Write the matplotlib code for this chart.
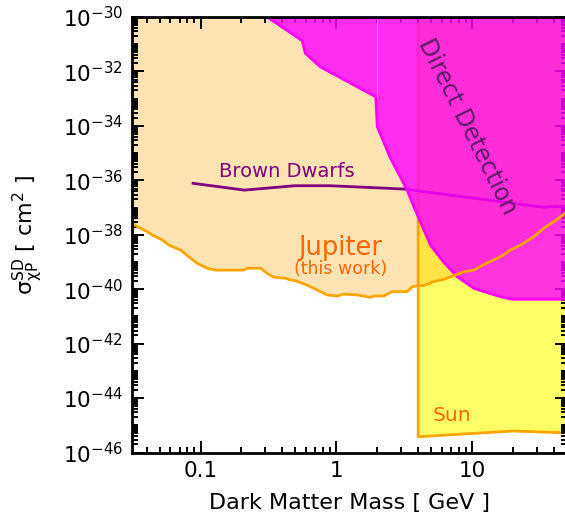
import matplotlib
matplotlib.use('Agg')
import matplotlib.pyplot as plt
import numpy as np
from matplotlib.ticker import FixedLocator, LogFormatterMathtext, FixedFormatter, NullFormatter

# Jupiter bound (this work): mass [GeV], log10 sigma [cm^2]
jup_mass = [0.031, 0.0342, 0.0405, 0.0441, 0.0522, 0.0584, 0.0712, 0.082, 0.0946, 0.112,
            0.129, 0.208, 0.221, 0.277, 0.310, 0.346, 0.422, 0.460, 0.500, 0.610,
            0.856, 1.015, 1.134, 1.424, 1.784, 1.887, 2.235, 2.577, 3.323, 3.618,
            4.0, 4.402, 5.215, 6.18, 7.32, 8.676, 10.27, 12.9, 16.16, 19.14,
            22.68, 28.41, 33.65, 39.88, 44.67, 50.0]
jup_logsig = [-37.58, -37.70, -37.89, -38.01, -38.19, -38.38, -38.56, -38.81, -39.05, -39.23,
              -39.30, -39.30, -39.23, -39.23, -39.42, -39.56, -39.60, -39.66, -39.69, -39.85,
              -40.21, -40.25, -40.18, -40.21, -40.30, -40.25, -40.25, -40.09, -40.09, -39.91,
              -39.87, -39.87, -39.72, -39.64, -39.50, -39.36, -39.30, -39.03, -38.81, -38.56,
              -38.38, -38.07, -37.76, -37.52, -37.34, -37.16]

# Direct detection excluded region (lower boundary)
dd_mass = [0.31, 0.56, 0.59, 0.76, 1.95, 2.0, 2.5, 3.32, 3.72, 4.93, 6.15, 7.76, 10.3, 16.2, 19.7, 50.0]
dd_logsig = [-30.0, -30.87, -31.33, -31.83, -32.93, -34.03, -35.18, -36.36, -36.97, -38.38,
             -39.0, -39.54, -39.97, -40.28, -40.37, -40.37]

# Sun bound
sun_mass = [4.0, 4.0, 20.0, 50.0]
sun_logsig = [-30.0, -45.42, -45.21, -45.28]

# Brown dwarfs
bd_mass = [0.088, 0.21, 0.49, 0.91, 3.14, 33.6, 50.0]
bd_logsig = [-36.11, -36.36, -36.20, -36.20, -36.32, -36.99, -36.94]

xticks = [0.1, 1, 10]
xticklabels = ['0.1', '1', '10']

jup_sig = 10.0 ** np.array(jup_logsig)
dd_sig = 10.0 ** np.array(dd_logsig)
sun_sig = 10.0 ** np.array(sun_logsig)
bd_sig = 10.0 ** np.array(bd_logsig)
top = 1e-30

fig = plt.figure(figsize=(5.65, 5.19), dpi=100)
ax = fig.add_axes([131.5 / 565, (519 - 452.5) / 519, 435.6 / 565, 435.5 / 519])
ax.set_xscale('log')
ax.set_yscale('log')

# regions
ax.fill_between(sun_mass, sun_sig, top, color='yellow', alpha=0.6, lw=0, zorder=1)
ax.fill_between(jup_mass, jup_sig, top, color='orange', alpha=0.3, lw=0, zorder=1.1)
ax.plot(sun_mass, sun_sig, color='orange', lw=2, zorder=1.5)
ax.plot(bd_mass, bd_sig, color='purple', lw=2, zorder=1.6)
ax.fill_between(dd_mass, dd_sig, top, color='magenta', alpha=0.8, lw=0, zorder=2)
ax.plot(dd_mass, dd_sig, color='magenta', lw=2, zorder=2.1)
ax.plot([2.0, 2.0], [top, dd_sig[4]], color='#ff80d0', lw=0.8, zorder=2.2)
ax.plot(jup_mass, jup_sig, color='orange', lw=2, zorder=3)

# labels
ax.text(0.136, 10 ** -35.88, 'Brown Dwarfs', color='purple', fontsize=14,
        ha='left', va='baseline', zorder=4)
ax.text(1.07, 10 ** -38.74, 'Jupiter', color='#ff6600', fontsize=18.5,
        ha='center', va='baseline', zorder=4)
ax.text(1.07, 10 ** -39.44, '(this work)', color='#ff6600', fontsize=12.5,
        ha='center', va='baseline', zorder=4)
ax.text(5.08, 10 ** -44.84, 'Sun', color='#ff6600', fontsize=14.5,
        ha='left', va='baseline', zorder=4)
ax.text(9.3, 10 ** -34.02, 'Direct Detection', color='#5e1a66', fontsize=17,
        rotation=-63.5, ha='center', va='center', zorder=4)

ax.set_xlim(0.031, 50)
ax.set_ylim(1e-46, 1e-30)

ax.xaxis.set_major_locator(FixedLocator(xticks))
ax.xaxis.set_major_formatter(FixedFormatter(xticklabels))
xminor = [s * 10.0 ** k for k in range(-2, 2) for s in range(2, 10)]
ax.xaxis.set_minor_locator(FixedLocator(xminor))
ax.xaxis.set_minor_formatter(NullFormatter())

ax.yaxis.set_major_locator(FixedLocator([10.0 ** k for k in range(-46, -29, 2)]))
ax.yaxis.set_major_formatter(LogFormatterMathtext())
yminor = [s * 10.0 ** k for k in range(-47, -29) for s in range(1, 10)]
ax.yaxis.set_minor_locator(FixedLocator(yminor))
ax.yaxis.set_minor_formatter(NullFormatter())

ax.tick_params(which='both', direction='in', top=True, right=True, labelsize=15.5)
ax.tick_params(which='major', length=8.5, width=1.4, pad=6)
ax.tick_params(which='minor', length=4.3, width=1.4)
for sp in ax.spines.values():
    sp.set_linewidth(2)
    sp.set_zorder(5)

ax.set_xlabel('Dark Matter Mass [ GeV ]', fontsize=16, labelpad=9)
ax.set_ylabel(r'$\mathrm{\sigma^{SD}_{\chi P}}$ [ cm$^2$ ]', fontsize=16, labelpad=13)

fig.savefig('out.png', dpi=100)
